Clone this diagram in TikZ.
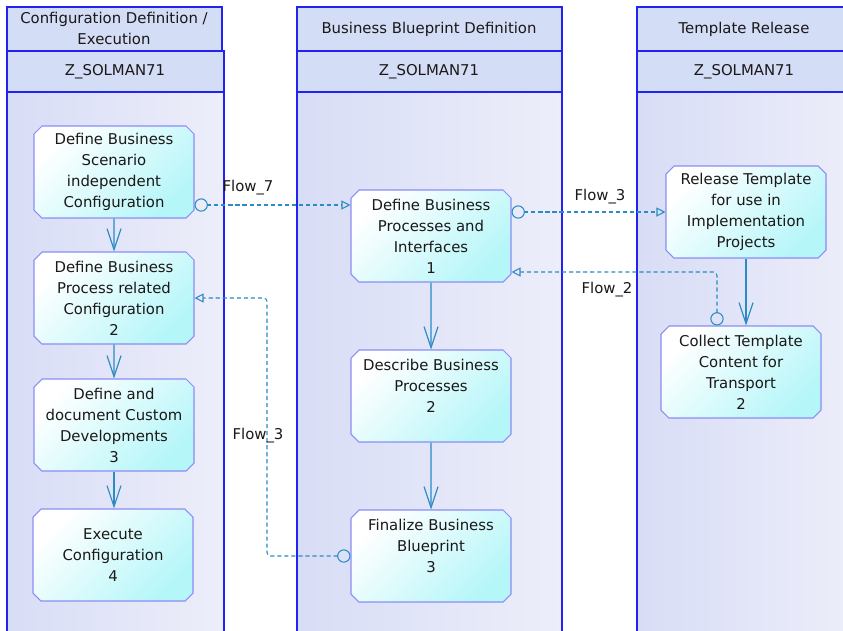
\documentclass[tikz,border=0pt]{standalone}
\usepackage{fontspec}
\setmainfont{DejaVu Sans}
\usepackage{xcolor}
\usepackage{tikz}
\usetikzlibrary{positioning, shapes.misc, arrows.meta, calc}

\definecolor{laneline}{HTML}{2323F0}
\definecolor{headfill}{HTML}{D3DDF6}
\definecolor{laneleft}{HTML}{D8DDF6}
\definecolor{laneright}{HTML}{EDEEFA}
\definecolor{actline}{HTML}{8C8CF5}
\definecolor{actfill}{HTML}{B5F6F9}
\definecolor{flowcol}{HTML}{2B8BC4}
\definecolor{txtcol}{HTML}{1C1818}

\begin{document}
\begin{tikzpicture}[x=0.03cm, y=-0.03cm,
    every node/.style={font=\fontsize{12.7}{17.9}\selectfont, text=txtcol, align=center},
    lanebody/.style={draw=laneline, line width=1.1pt, left color=laneleft, right color=laneright},
    lanehead/.style={draw=laneline, line width=1.1pt, fill=headfill},
    activity/.style={chamfered rectangle, chamfered rectangle xsep=0.12cm, chamfered rectangle ysep=0.12cm,
      draw=actline, line width=0.9pt,
      top color=white, bottom color=actfill, shading angle=45,
      minimum width=4.8cm, minimum height=2.76cm, inner sep=0pt},
    seqflow/.style={draw=flowcol, line width=1pt, -{Straight Barb[length=0.63cm, width=0.42cm]}},
    msgflow/.style={draw=flowcol, line width=0.9pt, dash pattern=on 3.5pt off 2.5pt, rounded corners=3pt,
      arrows={Circle[open, length=0.4cm]-Triangle[open, length=0.27cm, width=0.27cm]}}]
      \useasboundingbox[fill=white] (0,0) rectangle (843,630);

      % Lanes
      \draw[lanebody] (7,92) rectangle (224,645);
      \draw[lanehead] (7,7) rectangle (222,51);
      \draw[lanehead] (7,51) rectangle (224,92);
      \node (cfgTitle) at (114,28) {Configuration Definition /\\Execution};
      \node (cfgSys) at (115,72) {Z\_SOLMAN71};

      \draw[lanebody] (297,92) rectangle (562,645);
      \draw[lanehead] (297,7) rectangle (562,51);
      \draw[lanehead] (297,51) rectangle (562,92);
      \node (bpTitle) at (429,29) {Business Blueprint Definition};
      \node (bpSys) at (429,72) {Z\_SOLMAN71};

      \draw[lanebody] (637,92) rectangle (860,645);
      \draw[lanehead] (637,7) rectangle (860,51);
      \draw[lanehead] (637,51) rectangle (860,92);
      \node (tplTitle) at (744,29) {Template Release};
      \node (tplSys) at (744,72) {Z\_SOLMAN71};

      % Activities
      \node[activity] (cfgScen) at (114,172) {Define Business\\Scenario\\independent\\Configuration};
      \node[activity] (cfgProc) at (114,298) {Define Business\\Process related\\Configuration\\2};
      \node[activity] (cfgDev) at (114,425) {Define and\\document Custom\\Developments\\3};
      \node[activity] (cfgExec) at (113,555) {Execute\\Configuration\\4};

      \node[activity] (bpDefine) at (431,236) {Define Business\\Processes and\\Interfaces\\1};
      \node[activity] (bpDescr) at (431,396) {Describe Business\\Processes\\2\\\mbox{}};
      \node[activity] (bpFinal) at (431,556) {Finalize Business\\Blueprint\\3\\\mbox{}};

      \node[activity] (tplRel) at (746,212) {Release Template\\for use in\\Implementation\\Projects};
      \node[activity] (tplColl) at (741,372) {Collect Template\\Content for\\Transport\\2};

      % Sequence flows
      \draw[seqflow] (cfgScen) -- (cfgProc);
      \draw[seqflow] (cfgProc) -- (cfgDev);
      \draw[seqflow] (cfgDev.south) -- (cfgDev.south |- cfgExec.north);
      \draw[seqflow] (bpDefine) -- (bpDescr);
      \draw[seqflow] (bpDescr) -- (bpFinal);
      \draw[seqflow] (tplRel.south) -- (tplRel.south |- tplColl.north);

      % Message flows
      \coordinate (f7) at (280,205);
      \coordinate (f2) at (717,272);
      \coordinate (f3) at (267,298);
      \draw[msgflow] (cfgScen.east |- f7) -- (bpDefine.west |- f7);
      \draw[msgflow] (bpDefine.east |- tplRel) -- (tplRel.west);
      \draw[msgflow] (tplColl.north -| f2) -- (f2) -- (bpDefine.east |- f2);
      \draw[msgflow] (bpFinal.west) -| (f3) -- (cfgProc.east);

      % Flow labels
      \node (lblF7) at (248,188) {Flow\_7};
      \node (lblF3a) at (600,197) {Flow\_3};
      \node (lblF2) at (607,290) {Flow\_2};
      \node (lblF3b) at (258,436) {Flow\_3};
\end{tikzpicture}
\end{document}
